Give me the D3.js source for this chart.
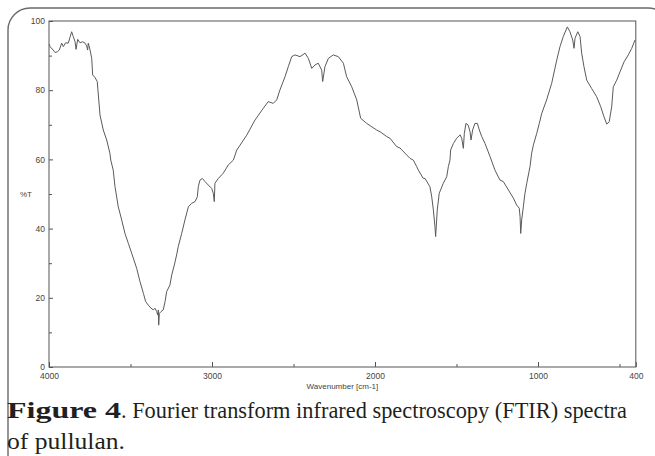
<!DOCTYPE html>
<html>
<head>
<meta charset="utf-8">
<script src="https://cdn.jsdelivr.net/npm/d3@7"></script>
<style>
  html, body { margin: 0; padding: 0; background: #fff; }
  svg { display: block; }
</style>
</head>
<body>
<svg id="chart" width="655" height="456"></svg>
<script>
// ---- data ----
const wavenumber = [3998,3994,3974,3963,3949,3937,3922,3912,3898,3882,3871,3861,3851,3840,3834,3824,3810,3793,3779,3769,3763,3759,3748,3738,3732,3718,3704,3687,3667,3646,3626,3621,3606,3595,3575,3554,3534,3513,3493,3462,3442,3421,3407,3391,3374,3360,3350,3339,3333,3329,3327,3323,3313,3299,3288,3278,3258,3247,3231,3217,3207,3186,3166,3145,3125,3104,3090,3084,3074,3059,3043,3023,3002,2992,2986,2982,2961,2931,2900,2869,2848,2787,2736,2685,2655,2624,2603,2583,2552,2532,2511,2491,2460,2429,2409,2388,2368,2348,2327,2321,2307,2286,2256,2225,2194,2174,2143,2112,2088,2051,1990,1969,1928,1908,1867,1847,1806,1785,1765,1744,1734,1704,1693,1663,1652,1642,1632,1628,1618,1606,1581,1560,1550,1540,1536,1519,1499,1478,1468,1458,1452,1442,1428,1417,1411,1401,1387,1372,1360,1345,1325,1294,1264,1233,1213,1182,1151,1131,1115,1110,1106,1100,1090,1080,1069,1049,1039,1028,1008,992,977,947,916,885,865,845,820,804,787,779,773,756,742,732,718,701,671,640,615,595,578,563,548,538,517,497,472,446,425,405];
const transmittance = [93.3,92.6,91.6,90.9,91.1,91.6,93.6,92.6,93.7,93.6,95.3,96.9,95.5,94.0,91.8,94.7,93.7,94.0,93.6,92.8,91.6,93.6,91.6,89.2,84.4,83.7,82.5,72.8,68.5,65.6,61.7,59.8,56.9,52.1,46.3,42.5,38.6,35.7,32.9,28.5,24.7,21.3,18.9,17.9,17.0,16.5,17.0,16.0,15.0,16.5,12.1,15.5,16.0,16.5,18.9,21.8,23.7,26.6,29.5,32.4,34.8,38.6,42.5,46.3,47.3,47.8,49.2,52.1,54.0,54.5,53.6,52.6,51.6,50.2,47.8,53.1,54.5,56.0,58.4,59.8,62.7,67.0,71.4,74.8,76.7,76.2,77.2,80.1,83.9,86.8,89.7,90.2,89.7,90.7,89.2,86.3,87.3,87.8,85.8,82.5,86.8,89.2,90.2,89.7,87.8,83.9,81.0,77.2,71.9,70.4,68.5,68.0,66.6,66.1,63.7,63.3,61.3,60.3,59.8,57.9,56.9,54.5,54.5,52.1,49.2,45.4,40.5,37.7,45.4,50.2,53.1,55.0,57.9,59.8,62.7,64.6,66.1,67.1,66.1,63.2,67.5,70.4,69.9,68.0,65.6,68.5,70.4,70.4,68.5,66.6,64.6,60.8,56.9,54.0,53.6,51.2,48.8,46.8,45.9,43.4,38.6,42.5,46.3,50.2,53.1,57.9,61.8,64.2,67.5,70.4,73.3,77.2,82.0,88.7,92.6,95.5,98.3,96.9,94.5,92.1,95.0,96.9,95.5,90.7,86.8,82.9,80.5,78.1,75.2,72.3,70.2,70.9,75.2,81.0,82.9,85.3,88.2,90.2,92.1,94.5];
const xTickValues = [4000, 3000, 2000, 1000, 400];
const xMinorTicks = [3500, 2500, 1500, 500];
const yTickValues = [0, 20, 40, 60, 80, 100];
const yMinorTicks = [10, 30, 50, 70, 90];
const xTitle = "Wavenumber [cm-1]";
const yTitle = "%T";
const captionBold = "Figure 4";
const captionLine1 = ". Fourier transform infrared spectroscopy (FTIR) spectra";
const captionLine2 = "of pullulan.";

// ---- layout ----
const svg = d3.select("#chart");
const L = 49, R = 635.8, T = 21, B = 367;

const x = d3.scaleLinear().domain([4000, 400]).range([L, R]);
const y = d3.scaleLinear().domain([0, 100]).range([B, T]);

// outer rounded frame
svg.append("rect")
  .attr("x", 8).attr("y", 8)
  .attr("width", 662).attr("height", 468)
  .attr("rx", 22).attr("ry", 22)
  .attr("fill", "none").attr("stroke", "#6a6a6a").attr("stroke-width", 1.4);

// plot box
svg.append("rect")
  .attr("x", L).attr("y", T).attr("width", R - L).attr("height", B - T)
  .attr("fill", "#fff").attr("stroke", "#555").attr("stroke-width", 1);

const tickFont = (g) => {
  g.select(".domain").remove();
  g.selectAll("line").attr("stroke", "#555");
  g.selectAll("text").attr("fill", "#444")
    .style("font-family", "'Liberation Sans', Arial, sans-serif")
    .style("font-size", "8.5px");
};

// x axis
svg.append("g").attr("transform", `translate(0,${B})`)
  .call(d3.axisBottom(x).tickValues(xTickValues).tickSize(-5).tickPadding(6).tickFormat(d3.format("d")))
  .call(tickFont);
svg.append("g").attr("transform", `translate(0,${B})`)
  .call(d3.axisBottom(x).tickValues(xMinorTicks).tickSize(-3).tickFormat(""))
  .call(tickFont);

// y axis
svg.append("g").attr("transform", `translate(${L},0)`)
  .call(d3.axisLeft(y).tickValues(yTickValues).tickSize(-4).tickPadding(4).tickFormat(d3.format("d")))
  .call(tickFont);
svg.append("g").attr("transform", `translate(${L},0)`)
  .call(d3.axisLeft(y).tickValues(yMinorTicks).tickSize(-3).tickFormat(""))
  .call(tickFont);

// axis titles
svg.append("text")
  .attr("x", (L + R) / 2).attr("y", 389)
  .attr("text-anchor", "middle")
  .attr("fill", "#444")
  .style("font-family", "'Liberation Sans', Arial, sans-serif")
  .style("font-size", "8px")
  .text(xTitle);
svg.append("text")
  .attr("x", 20).attr("y", y(50) + 3)
  .attr("fill", "#444")
  .style("font-family", "'Liberation Sans', Arial, sans-serif")
  .style("font-size", "8px")
  .text(yTitle);

// spectrum
const pts = wavenumber.map((w, i) => [w, transmittance[i]]);
svg.append("path")
  .datum(pts)
  .attr("fill", "none")
  .attr("stroke", "#5a5a5a")
  .attr("stroke-width", 1)
  .attr("stroke-linejoin", "round")
  .attr("d", d3.line().x(d => x(d[0])).y(d => y(d[1])));

// caption
const capFont = "'Liberation Serif', 'Times New Roman', serif";
svg.append("text")
  .attr("x", 7).attr("y", 418)
  .attr("fill", "#231f20")
  .attr("font-weight", "bold")
  .attr("textLength", 114).attr("lengthAdjust", "spacingAndGlyphs")
  .style("font-family", capFont).style("font-size", "24px")
  .text(captionBold);
svg.append("text")
  .attr("x", 121).attr("y", 418)
  .attr("fill", "#231f20")
  .attr("textLength", 506).attr("lengthAdjust", "spacingAndGlyphs")
  .style("font-family", capFont).style("font-size", "23px")
  .text(captionLine1);
svg.append("text")
  .attr("x", 7).attr("y", 449)
  .attr("fill", "#231f20")
  .attr("textLength", 118).attr("lengthAdjust", "spacingAndGlyphs")
  .style("font-family", capFont).style("font-size", "24px")
  .text(captionLine2);
</script>
</body>
</html>
